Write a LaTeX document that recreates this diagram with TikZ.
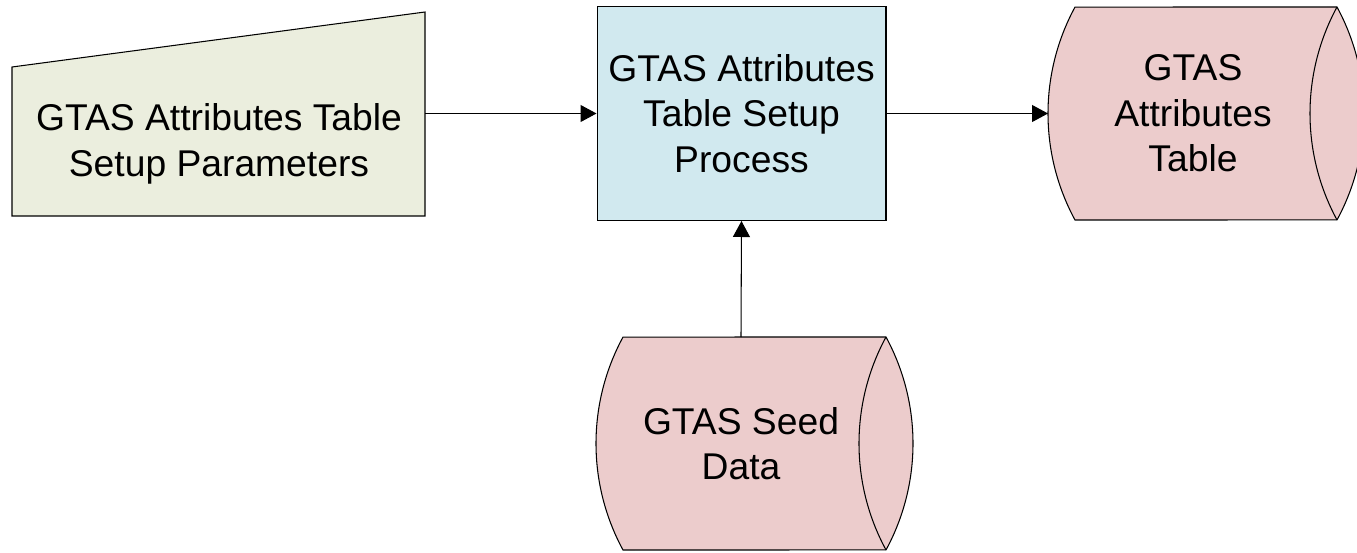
\documentclass[tikz,border=0pt]{standalone}
\usepackage{fontspec}
\setmainfont{Liberation Sans}
\usetikzlibrary{arrows.meta,calc}
\definecolor{paramfill}{RGB}{235,238,222}
\definecolor{procfill}{RGB}{209,233,239}
\definecolor{datafill}{RGB}{236,204,204}

\begin{document}
\begin{tikzpicture}[x=0.02cm,y=0.02cm,line width=0.6pt,
	txt/.style={align=center,font=\fontsize{21.2}{25.8}\selectfont},
	pfeil/.style={-{Triangle[length=0.32cm,width=0.34cm]}}] %Eingabe, Prozess, Speicher
	\useasboundingbox (0,0) rectangle (1357,552);
	\draw[fill=paramfill] (12,336) -- (425,336) -- (425,540) -- (12,485) -- cycle;
	\node[txt] (par) at (219,408) {GTAS Attributes Table\\Setup Parameters};
	\coordinate (parout) at (425,438.5);
	\node[draw,fill=procfill,txt,minimum width=5.78cm,minimum height=4.28cm] (proc) at (741.5,438.5) {GTAS Attributes\\Table Setup\\Process};
	\draw[fill=datafill] (1337,545) arc[start angle=28.46,end angle=-28.46,radius=4.47cm] -- (1075,332) arc[start angle=208.46,end angle=151.54,radius=4.47cm] -- cycle;
	\draw (1337,545) arc[start angle=151.54,end angle=208.46,radius=4.47cm];
	\node[txt] (tab) at (1193,438.5) {GTAS\\Attributes\\Table};
	\coordinate (tabin) at (1048,438.5);
	\draw[fill=datafill] (886,215) arc[start angle=28.46,end angle=-28.46,radius=4.47cm] -- (623,2) arc[start angle=208.46,end angle=151.54,radius=4.47cm] -- cycle;
	\draw (886,215) arc[start angle=151.54,end angle=208.46,radius=4.47cm];
	\node[txt] (seed) at (741,108) {GTAS Seed\\Data};
	\coordinate (seedout) at (741,215);
	\draw[pfeil] (parout) -- (proc.west);
	\draw[pfeil] (proc.east) -- (tabin);
	\draw[pfeil] (seedout) -- (proc.south);
\end{tikzpicture}
\end{document}
